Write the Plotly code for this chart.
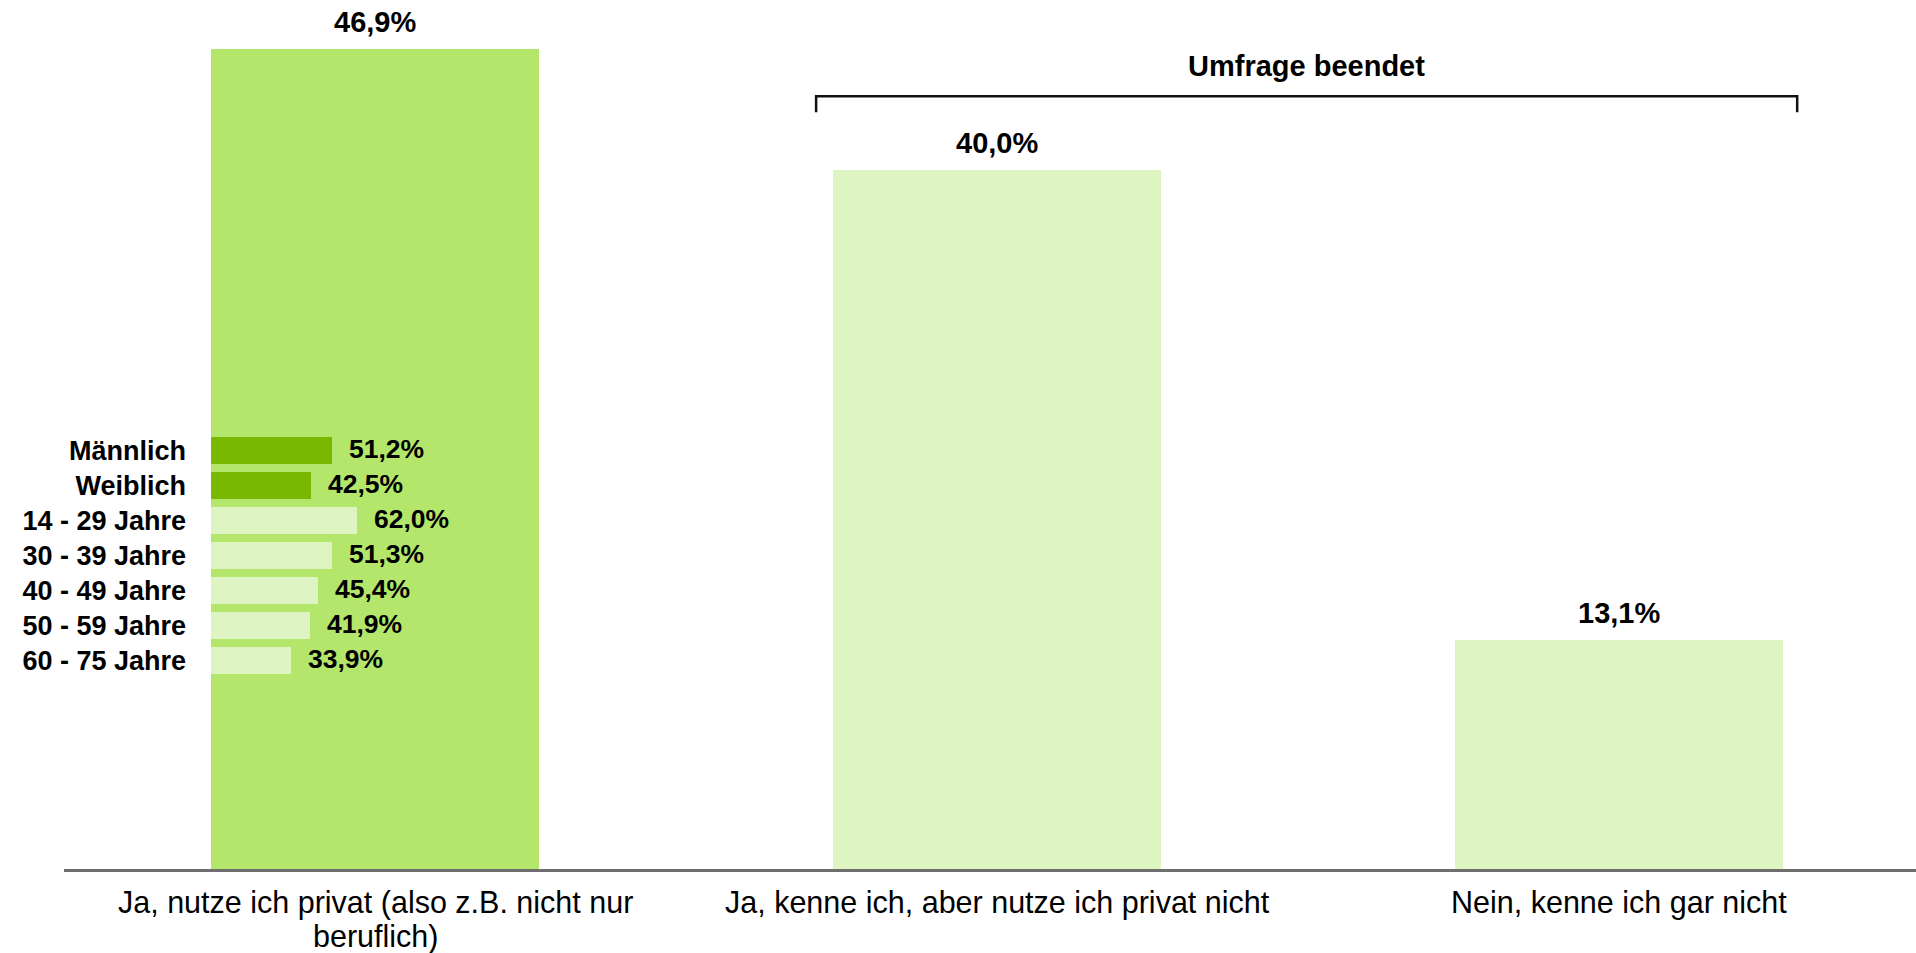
import plotly.graph_objects as go

# ---- data ----
categories = [
    "Ja, nutze ich privat (also z.B. nicht nur beruflich)",
    "Ja, kenne ich, aber nutze ich privat nicht",
    "Nein, kenne ich gar nicht",
]
category_lines = [
    ["Ja, nutze ich privat (also z.B. nicht nur", "beruflich)"],
    ["Ja, kenne ich, aber nutze ich privat nicht"],
    ["Nein, kenne ich gar nicht"],
]
values = [46.9, 40.0, 13.1]

segment_labels = ["Männlich", "Weiblich", "14 - 29 Jahre", "30 - 39 Jahre",
                  "40 - 49 Jahre", "50 - 59 Jahre", "60 - 75 Jahre"]
segment_values = [51.2, 42.5, 62.0, 51.3, 45.4, 41.9, 33.9]
segment_groups = ["gender", "gender", "age", "age", "age", "age", "age"]

bracket_text = "Umfrage beendet"

# ---- styles ----
FONT = "Arial, Liberation Sans, sans-serif"
C_MAIN = "#b3e66a"
C_LIGHT = "#def5c3"
C_DARK = "#78b800"
main_colors = [C_MAIN, C_LIGHT, C_LIGHT]
seg_colors = [C_DARK if g == "gender" else C_LIGHT for g in segment_groups]


def fmt(v):
    return f"{v:.1f}".replace(".", ",") + "%"


fig = go.Figure()

fig.add_trace(go.Bar(
    x=list(range(len(categories))), y=values, width=0.527,
    marker=dict(color=main_colors, line=dict(width=0)),
    hovertext=categories, hoverinfo="text+y", showlegend=False,
    xaxis="x", yaxis="y",
))

fig.add_trace(go.Bar(
    x=segment_values, y=segment_labels, orientation="h", width=0.78,
    marker=dict(color=seg_colors, line=dict(width=0)),
    showlegend=False, xaxis="x2", yaxis="y2",
))

annotations = []
# value labels above main bars
for i, v in enumerate(values):
    annotations.append(dict(
        x=i, y=v, xref="x", yref="y", text=fmt(v), showarrow=False,
        xanchor="center", yanchor="middle", yshift=27,
        font=dict(family=FONT, size=29, color="#000000", weight="bold"),
    ))
# category labels below axis
for i, lines in enumerate(category_lines):
    for j, line in enumerate(lines):
        annotations.append(dict(
            x=i, y=0, xref="x", yref="paper", text=line, showarrow=False,
            xanchor="center", yanchor="middle", yshift=-33 - 34.5 * j,
            borderpad=0,
            font=dict(family=FONT, size=30.5, color="#000000"),
        ))
# inset value labels
for lab, v in zip(segment_labels, segment_values):
    annotations.append(dict(
        x=v, y=lab, xref="x2", yref="y2", text=fmt(v), showarrow=False,
        xanchor="left", yanchor="middle", xshift=15, yshift=2,
        font=dict(family=FONT, size=26.5, color="#000000", weight="bold"),
    ))
# bracket text
annotations.append(dict(
    x=1.4975, y=45.94, xref="x", yref="y", text=bracket_text, showarrow=False,
    xanchor="center", yanchor="middle",
    font=dict(family=FONT, size=29, color="#000000", weight="bold"),
))

shapes = [dict(
    type="path", xref="x", yref="y",
    path="M 0.709,43.3 L 0.709,44.22 L 2.286,44.22 L 2.286,43.3",
    line=dict(color="#111111", width=2.5),
)]

fig.update_layout(
    width=1916, height=953,
    margin=dict(l=64, r=0, t=0, b=84),
    paper_bgcolor="white", plot_bgcolor="rgba(0,0,0,0)",
    bargap=0, showlegend=False,
    annotations=annotations, shapes=shapes,
    xaxis=dict(range=[-0.5, 2.477], showticklabels=False, ticks="",
               showgrid=False, zeroline=False, showline=True,
               linecolor="#6e6e6e", linewidth=2.5, domain=[0, 1]),
    yaxis=dict(range=[0, 49.72], showticklabels=False, showgrid=False,
               zeroline=False, showline=False, ticks=""),
    xaxis2=dict(domain=[0.0794, 0.2068], range=[0, 100], anchor="y2",
                showticklabels=False, showgrid=False, zeroline=False,
                showline=False, ticks=""),
    yaxis2=dict(domain=[0.2196, 0.5012], anchor="x2", type="category",
                categoryorder="array", categoryarray=segment_labels,
                range=[6.5, -0.5], showgrid=False, zeroline=False,
                showline=False, ticks="", ticklabelstandoff=24,
                tickfont=dict(family=FONT, size=27, color="#000000", weight="bold")),
)

fig.write_html("out.html", config={"displayModeBar": False},
               post_script="document.body.style.margin='0';document.body.style.overflow='hidden';")
